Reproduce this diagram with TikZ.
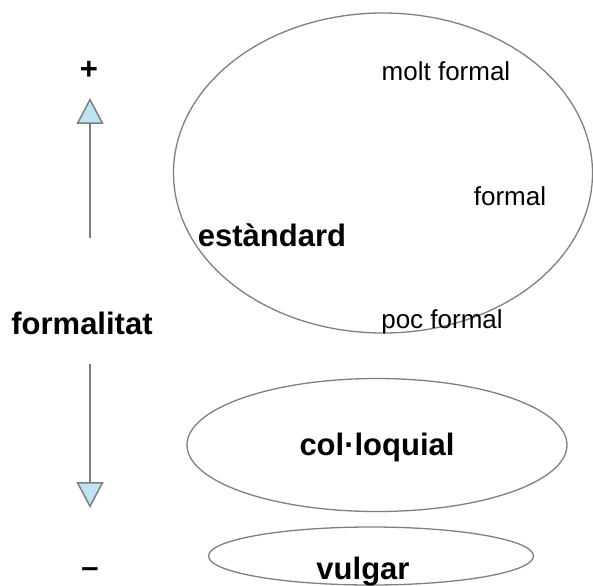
\documentclass[tikz,border=0pt]{standalone}
\usepackage{fontspec}
\setmainfont{Liberation Sans}
\usetikzlibrary{shapes.geometric,arrows.meta}
\definecolor{edgegray}{HTML}{7F7F7F}
\definecolor{tipblue}{HTML}{BFE3F0}
\begin{document}
\begin{tikzpicture}[x=1pt,y=-1pt,
  oval/.style={ellipse,draw=edgegray,line width=1.3pt,inner sep=0pt},
  lbl/.style={font=\fontsize{26}{30}\selectfont,inner sep=0pt},
  blbl/.style={font=\fontsize{31}{35}\selectfont\bfseries,inner sep=0pt},
  scale arrow/.style={draw=edgegray,line width=2pt,
    -{Triangle[width=27pt,length=26pt,fill=tipblue,line width=1.5pt]}}]
\useasboundingbox (0,0) rectangle (593,585);
\node[oval,minimum width=419pt,minimum height=320pt] (std) at (383,173) {};
\node[oval,minimum width=380pt,minimum height=133pt] (col) at (377,445) {};
\node[oval,minimum width=325pt,minimum height=58pt] (vul) at (371,556) {};
\node[blbl] (plus) at (89,70) {+};
\node[blbl] (form) at (82,323) {formalitat};
\node[blbl] (minus) at (90,573) {–};
\node[lbl] (molt) at (446,71) {molt formal};
\node[lbl] (formal) at (510,196) {formal};
\node[blbl] (estd) at (272,235) {estàndard};
\node[lbl] (poc) at (442,322) {poc formal};
\node[blbl] (coll) at (377,447) {col·loquial};
\node[blbl] (vulg) at (363,572) {vulgar};
\coordinate (upS) at (90,238);
\coordinate (upE) at (90,98);
\coordinate (dnS) at (90,364);
\coordinate (dnE) at (90,508);
\draw[scale arrow] (upS) -- (upE);
\draw[scale arrow] (dnS) -- (dnE);
\end{tikzpicture}
\end{document}
